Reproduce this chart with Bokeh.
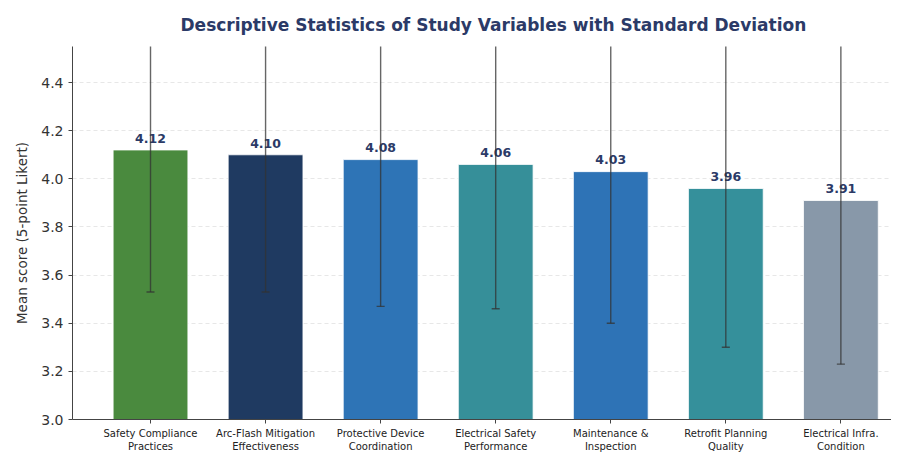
from bokeh.plotting import figure
from bokeh.models import ColumnDataSource, FixedTicker, Range1d
from bokeh.core.properties import value
from bokeh.embed import file_html
from bokeh.resources import INLINE

categories = [
    "Safety Compliance\nPractices",
    "Arc-Flash Mitigation\nEffectiveness",
    "Protective Device\nCoordination",
    "Electrical Safety\nPerformance",
    "Maintenance &\nInspection",
    "Retrofit Planning\nQuality",
    "Electrical Infra.\nCondition",
]
means = [4.12, 4.10, 4.08, 4.06, 4.03, 3.96, 3.91]
sds = [0.59, 0.57, 0.61, 0.60, 0.63, 0.66, 0.68]
colors = ["#4a8a3e", "#1f3a61", "#2e74b6", "#368f99", "#2e73b6", "#35909b", "#8898a9"]
y_ticks = [3.0, 3.2, 3.4, 3.6, 3.8, 4.0, 4.2, 4.4]

xs = list(range(len(categories)))
src = ColumnDataSource(dict(
    x=xs, top=means, color=colors,
    lo=[m - s for m, s in zip(means, sds)],
    hi=[m + s for m, s in zip(means, sds)],
    lbl=[f"{m:.2f}" for m in means],
    ly=[m + 0.03 for m in means],
    cl=[x - 0.035 for x in xs], cr=[x + 0.035 for x in xs],
))

FONT = "DejaVu Sans"
p = figure(width=891, height=454, output_backend="svg", toolbar_location=None,
           x_range=Range1d(-0.678, 6.44), y_range=Range1d(3.0, 4.55),
           min_border_left=72, min_border_right=0, min_border_bottom=34, min_border_top=45)
p.outline_line_color = None
p.background_fill_color = "white"
p.border_fill_color = "white"

p.title.text = "Descriptive Statistics of Study Variables with Standard Deviation"
p.title.align = "left"
p.title.text_font = FONT
p.title.text_font_size = "17px"
p.title.text_font_style = "bold"
p.title.text_color = "#2b3a67"
p.title.offset = 108
p.title.standoff = 24

p.vbar(x="x", top="top", bottom=3.0, width=0.65, fill_color="color", line_color="white",
       line_width=0.8, source=src)
p.text(x="x", y="ly", text="lbl", source=src, text_align="center", text_baseline="bottom",
       text_font=value(FONT), text_font_size="12.5px", text_font_style="bold", text_color="#2b3a67")
p.segment(x0="x", y0="lo", x1="x", y1="hi", source=src, line_color="#333333", line_alpha=0.75, line_width=1.4)
p.segment(x0="cl", y0="lo", x1="cr", y1="lo", source=src, line_color="#333333", line_alpha=0.75, line_width=1.4)
p.segment(x0="cl", y0="hi", x1="cr", y1="hi", source=src, line_color="#333333", line_alpha=0.75, line_width=1.4)

p.xgrid.grid_line_color = None
p.ygrid.grid_line_color = "#dddddd"
p.ygrid.grid_line_alpha = 0.7
p.ygrid.grid_line_dash = "4 3"
p.ygrid.ticker = FixedTicker(ticks=y_ticks)

p.xaxis.ticker = FixedTicker(ticks=xs)
p.xaxis.major_label_overrides = {i: c for i, c in enumerate(categories)}
p.xaxis.major_label_text_font = FONT
p.xaxis.major_label_text_font_size = "10px"
p.xaxis.major_label_text_color = "#222222"
p.xaxis.major_label_standoff = 4

p.yaxis.ticker = FixedTicker(ticks=y_ticks)
p.yaxis.major_label_overrides = {t: f"{t:.1f}" for t in y_ticks}
p.yaxis.major_label_text_font = FONT
p.yaxis.major_label_text_font_size = "14px"
p.yaxis.major_label_text_color = "#333333"
p.yaxis.axis_label = "Mean score (5-point Likert)"
p.yaxis.axis_label_text_font = FONT
p.yaxis.axis_label_text_font_size = "13.5px"
p.yaxis.axis_label_text_font_style = "normal"
p.yaxis.axis_label_text_color = "#333333"
p.yaxis.axis_label_standoff = 8

for ax in (p.xaxis, p.yaxis):
    ax.axis_line_color = "#444444"
    ax.major_tick_line_color = "#444444"
    ax.major_tick_out = 4
    ax.major_tick_in = 0
    ax.minor_tick_line_color = None

open("out.html", "w").write(file_html(p, INLINE))
